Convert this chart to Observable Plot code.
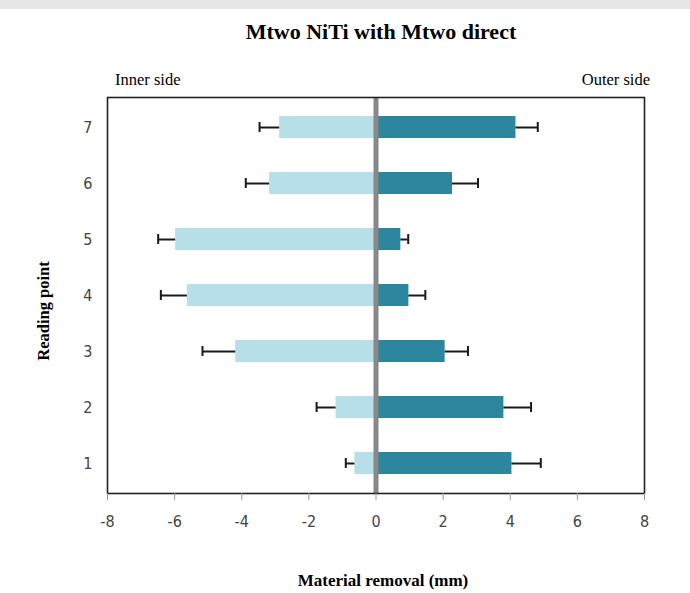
<!DOCTYPE html>
<html>
<head>
<meta charset="utf-8">
<script src="https://cdn.jsdelivr.net/npm/d3@7"></script>
<script src="https://cdn.jsdelivr.net/npm/@observablehq/plot@0.6"></script>
<style>
  html, body { margin: 0; padding: 0; background: #fff; }
  #wrap { position: relative; width: 690px; height: 593px; overflow: hidden; }
  #strip { position: absolute; left: 0; top: 0; width: 690px; height: 9px; background: #e6e6e8; }
  .lbl { position: absolute; font-family: "Liberation Serif", "Times New Roman", serif; color: #000; white-space: nowrap; line-height: 1; }
  #title { left: 0; width: 762px; top: 21px; text-align: center; font-size: 22px; font-weight: bold; }
  #inner { left: 115px; top: 72px; font-size: 16.5px; }
  #outer { right: 40px; top: 72px; font-size: 16.5px; }
  #xlab { left: 0; width: 766px; top: 572px; text-align: center; font-size: 17px; font-weight: bold; }
  #ylab { left: 44px; top: 311px; font-size: 16.5px; font-weight: bold; transform: translate(-50%, -50%) rotate(-90deg); }
  #chart { position: absolute; left: 0; top: 0; }
</style>
</head>
<body>
<div id="wrap">
  <div id="strip"></div>
  <div id="chart"></div>
  <div class="lbl" id="title">Mtwo NiTi with Mtwo direct</div>
  <div class="lbl" id="inner">Inner side</div>
  <div class="lbl" id="outer">Outer side</div>
  <div class="lbl" id="xlab">Material removal (mm)</div>
  <div class="lbl" id="ylab">Reading point</div>
</div>
<script>
const points = [1, 2, 3, 4, 5, 6, 7];
const innerValues = [-0.63, -1.19, -4.18, -5.62, -5.97, -3.17, -2.87];
const innerErrors = [0.27, 0.58, 0.99, 0.79, 0.52, 0.71, 0.60];
const outerValues = [4.05, 3.81, 2.06, 0.98, 0.74, 2.28, 4.17];
const outerErrors = [0.86, 0.81, 0.68, 0.49, 0.22, 0.76, 0.65];
const xTicks = [-8, -6, -4, -2, 0, 2, 4, 6, 8];

const inner = points.map((p, i) => ({point: p, value: innerValues[i], end: innerValues[i] - innerErrors[i]}));
const outer = points.map((p, i) => ({point: p, value: outerValues[i], end: outerValues[i] + outerErrors[i]}));
const bars = inner.concat(outer);

const tickFont = "'Liberation Sans Narrow', 'DejaVu Sans Condensed', 'Roboto', sans-serif";

const chart = Plot.plot({
  width: 690,
  height: 593,
  marginLeft: 107,
  marginRight: 46,
  marginTop: 97,
  marginBottom: 100,
  style: {background: "transparent", fontFamily: tickFont},
  x: {domain: [-8, 8]},
  y: {domain: points.slice().reverse(), paddingInner: 0.61, paddingOuter: 0.305},
  marks: [
    Plot.barX(inner, {x: "value", y: "point", fill: "#b7dfea"}),
    Plot.barX(outer, {x: "value", y: "point", fill: "#2b869e"}),
    Plot.ruleY(bars, {x1: "value", x2: "end", y: "point", stroke: "#1a1a1a", strokeWidth: 2}),
    Plot.tickX(bars, {x: "end", y: "point", stroke: "#1a1a1a", strokeWidth: 2, insetTop: 6, insetBottom: 6}),
    Plot.ruleX([0], {stroke: "#888", strokeWidth: 5, insetTop: 1}),
    Plot.frame({stroke: "#222", strokeWidth: 1.6}),
    Plot.axisX({ticks: xTicks, tickFormat: d => String(d), tickSize: 7, tickPadding: 15, stroke: "#999", fill: "#444", fontSize: 16, label: null}),
    Plot.axisY({tickSize: 0, tickPadding: 15, fill: "#444", fontSize: 16, label: null})
  ]
});
document.getElementById("chart").appendChild(chart);
</script>
</body>
</html>
